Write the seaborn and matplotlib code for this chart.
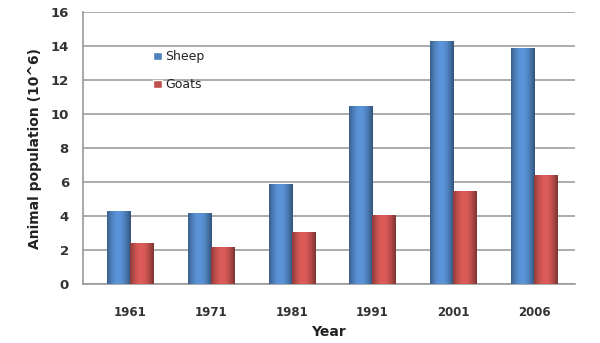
import matplotlib
matplotlib.use("Agg")
import matplotlib.pyplot as plt
import seaborn as sns
import pandas as pd
import numpy as np

years = ["1961", "1971", "1981", "1991", "2001", "2006"]
sheep = [4.3, 4.15, 5.9, 10.5, 14.3, 13.9]
goats = [2.4, 2.2, 3.05, 4.05, 5.5, 6.4]
series = ["Sheep", "Goats"]
yticks = [0, 2, 4, 6, 8, 10, 12, 14, 16]

df = pd.DataFrame({
    "Year": years * 2,
    "Value": sheep + goats,
    "Series": [series[0]] * len(years) + [series[1]] * len(years),
})

sns.set_style("white")
plt.rcParams['font.family'] = ['DejaVu Sans']

fig = plt.figure(figsize=(6, 3.43), dpi=100)
ax = fig.add_axes([0.138, 0.172, 0.82, 0.793])

palette = {"Sheep": "#4F81BD", "Goats": "#C0504D"}
sns.barplot(data=df, x="Year", y="Value", hue="Series", palette=palette,
            width=0.57, ax=ax, saturation=1, zorder=3)

# cylinder-like shading
for bar in ax.patches:
    x0, y0 = bar.get_x(), bar.get_y()
    w, h = bar.get_width(), bar.get_height()
    if h <= 0:
        continue
    base = np.array(matplotlib.colors.to_rgb(bar.get_facecolor()))
    t = np.linspace(0, 1, 64)
    shade = 0.55 + 0.6 * np.sin(np.pi * (t * 0.85 + 0.1))
    img = np.clip(base[None, :] * shade[:, None], 0, 1)[None, :, :]
    im = ax.imshow(img, extent=[x0, x0 + w, y0, y0 + h], aspect="auto",
                   zorder=3, interpolation="bilinear")
    im.set_clip_path(bar)
    bar.set_edgecolor("none")

ax.set_xlim(-0.58, len(years) - 0.52)
ax.set_ylim(0, 16)
ax.set_yticks(yticks)
ax.set_yticklabels([str(v) for v in yticks], fontsize=9.5, fontweight="bold", color="#333333")
ax.set_xticks(range(len(years)))
ax.set_xticklabels(years, fontsize=8.5, fontweight="bold", color="#333333")
ax.set_xticks(np.arange(0.5, len(years), 1), minor=True)
ax.tick_params(axis="x", which="major", length=0, pad=16)
ax.tick_params(axis="x", which="minor", length=4, color="#999999", direction="out")
ax.tick_params(axis="y", length=4, color="#999999", direction="out", pad=6)

ax.grid(axis="y", color="#a6a6a6", linewidth=1.3, zorder=0)
for s in ["top", "right"]:
    ax.spines[s].set_visible(False)
for s in ["left", "bottom"]:
    ax.spines[s].set_color("#999999")
    ax.spines[s].set_linewidth(1.2)

ax.set_xlabel("Year", fontsize=10, fontweight="bold", color="#222222", labelpad=4)
ax.set_ylabel("Animal population (10^6)", fontsize=10, fontweight="bold", color="#222222", labelpad=6)

handles, labels = ax.get_legend_handles_labels()
leg = ax.legend(handles, labels, loc="upper left", bbox_to_anchor=(0.12, 0.9),
                frameon=False, fontsize=9, handlelength=0.7, handleheight=0.7,
                labelspacing=1.2, handletextpad=0.3)
for t in leg.get_texts():
    t.set_color("#222222")

fig.savefig("out.png", dpi=100)
